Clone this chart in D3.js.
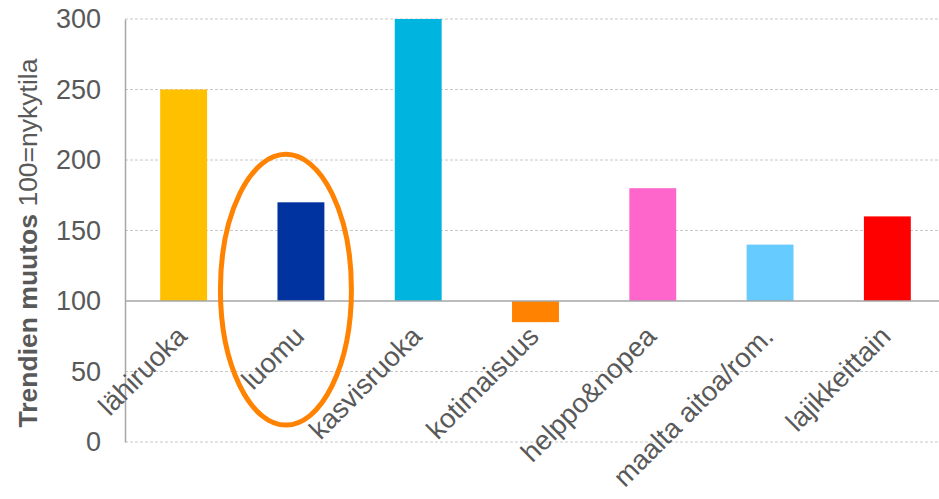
<!DOCTYPE html>
<html>
<head>
<meta charset="utf-8">
<script src="https://cdn.jsdelivr.net/npm/d3@7"></script>
<style>
  body { margin: 0; background: #fff; }
  text { font-family: "Liberation Sans", Arial, sans-serif; }
</style>
</head>
<body>
<svg id="chart" width="939" height="499"></svg>
<script>
// trend index, 100 = current state
var categories = ["lähiruoka", "luomu", "kasvisruoka", "kotimaisuus", "helppo&nopea", "maalta aitoa/rom.", "lajikkeittain"];
var values = [250, 170, 300, 85, 180, 140, 160];
var colors = ["#FFC000", "#0033A0", "#00B4E0", "#FF8200", "#FF66CC", "#66CCFF", "#FF0000"];
var yTicks = [0, 50, 100, 150, 200, 250, 300];
var baseline = 100;
// highlighted category and the value span the ring covers
var highlight = "luomu";
var ringSpan = [12, 204];

var svg = d3.select('#chart'),
    plotLeft = 125, plotRight = 946, plotTop = 19, plotBottom = 442,
    textColor = "#595959";

var x = d3.scaleBand().domain(categories).range([plotLeft, plotRight])
      .paddingInner(0.6).paddingOuter(0.3),
    y = d3.scaleLinear().domain([0, 300]).range([plotBottom, plotTop]);

// grid
svg.append('g').selectAll('line')
    .data(yTicks.filter(function(t) { return t != baseline; }))
  .enter().append('line')
    .attr('x1', plotLeft).attr('x2', 939)
    .attr('y1', function(d) { return y(d); })
    .attr('y2', function(d) { return y(d); })
    .attr('stroke', '#C8C8C8')
    .attr('stroke-width', 1)
    .attr('stroke-dasharray', '3,2');

// bars from the baseline
svg.append('g').selectAll('rect')
    .data(values)
  .enter().append('rect')
    .attr('x', function(d, i) { return x(categories[i]); })
    .attr('width', x.bandwidth())
    .attr('y', function(d) { return y(Math.max(d, baseline)); })
    .attr('height', function(d) { return Math.abs(y(d) - y(baseline)); })
    .attr('fill', function(d, i) { return colors[i]; });

// y axis
var yAxis = d3.axisLeft(y).tickValues(yTicks).tickSize(0).tickPadding(24);
var ga = svg.append('g').attr('transform', 'translate(' + plotLeft + ',0)').call(yAxis);
ga.attr('font-family', null).attr('font-size', null);
ga.select('.domain').attr('stroke', '#A6A6A6').attr('stroke-width', 1.5);
ga.selectAll('text')
    .attr('fill', textColor)
    .style('font-size', '27px');

// category axis at 100
svg.append('line')
    .attr('x1', plotLeft).attr('x2', 939)
    .attr('y1', y(baseline)).attr('y2', y(baseline))
    .attr('stroke', '#A6A6A6').attr('stroke-width', 1.5);

svg.append('g').selectAll('text')
    .data(categories)
  .enter().append('text')
    .attr('transform', function(d) {
      return 'translate(' + (x(d) + x.bandwidth() / 2 + 5) + ',' + (y(baseline) + 37) + ') rotate(-45)';
    })
    .attr('text-anchor', 'end')
    .attr('fill', textColor)
    .style('font-size', '27.5px')
    .text(function(d) { return d; });

// y title
var title = svg.append('text')
    .attr('transform', 'translate(37,243) rotate(-90)')
    .attr('text-anchor', 'middle')
    .attr('fill', textColor)
    .style('font-size', '26.5px');
title.append('tspan').style('font-weight', 'bold').text('Trendien muutos ');
title.append('tspan').text('100=nykytila');

// ring around highlighted bar
svg.append('ellipse')
    .attr('cx', x(highlight) + x.bandwidth() / 2 - 15)
    .attr('cy', (y(ringSpan[0]) + y(ringSpan[1])) / 2)
    .attr('rx', 65.5)
    .attr('ry', (y(ringSpan[0]) - y(ringSpan[1])) / 2)
    .attr('fill', 'none')
    .attr('stroke', '#FF8200')
    .attr('stroke-width', 5);
</script>
</body>
</html>
